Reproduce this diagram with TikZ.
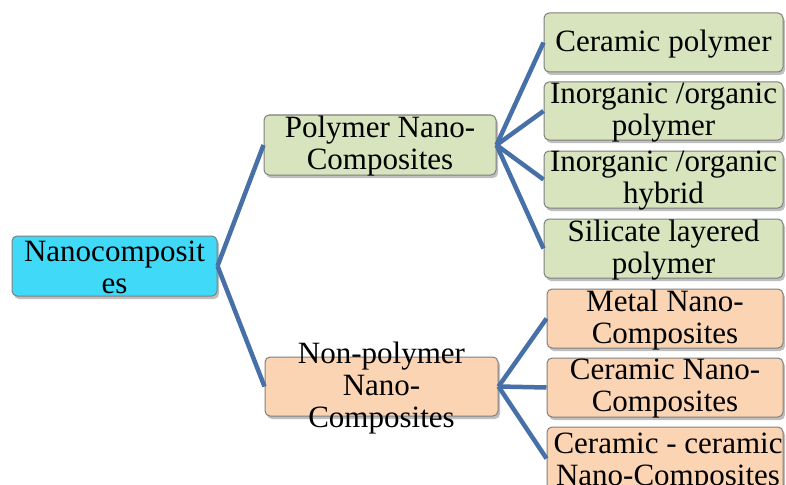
\documentclass[tikz,border=0pt]{standalone}
\usepackage{fontspec}
\setmainfont{Liberation Serif}
\usetikzlibrary{shadows}
\definecolor{cyanfill}{HTML}{40DAF8}
\definecolor{greenfill}{HTML}{D7E4BD}
\definecolor{peachfill}{HTML}{FBD4B4}
\definecolor{boxline}{HTML}{7F7F7F}
\definecolor{linkblue}{HTML}{4770A8}
\tikzset{
  box/.style={draw=boxline, line width=1pt, rounded corners=5pt, inner sep=0pt,
    drop shadow={shadow xshift=2pt, shadow yshift=-3pt, opacity=0.25, fill=black}},
  cbox/.style={box, fill=cyanfill},
  gbox/.style={box, fill=greenfill},
  pbox/.style={box, fill=peachfill},
  txt/.style={align=center, inner sep=0pt, font=\fontsize{31}{32}\selectfont},
  link/.style={draw=linkblue, line width=4.5pt}
}
\newcommand{\mybox}[6]{% style, name, x1, y1, x2, y2
  \node[#1, minimum width=#5-#3, minimum height=#6-#4] (#2) at ({(#3+#5)/2},{(#4+#6)/2}) {};}
\begin{document}
\begin{tikzpicture}[x=1pt, y=-1pt]
\useasboundingbox (0,0) rectangle (786,484);
% boxes
\mybox{cbox}{root}{12}{236}{217}{296}
\mybox{gbox}{poly}{264}{115}{496}{175}
\mybox{pbox}{nonp}{265}{357}{498}{416}
\mybox{gbox}{g1}{544}{13}{783}{72}
\mybox{gbox}{g2}{544}{82}{783}{140}
\mybox{gbox}{g3}{544}{151}{783}{208}
\mybox{gbox}{g4}{544}{219}{783}{278}
\mybox{pbox}{p1}{547}{289}{783}{348}
\mybox{pbox}{p2}{547}{358}{783}{417}
\mybox{pbox}{p3}{547}{427}{783}{490}
% connectors
\draw[link] (root.east) -- (poly.west);
\draw[link] (root.east) -- (nonp.west);
\foreach \t in {g1,g2,g3,g4} \draw[link] (poly.east) -- (\t.west);
\foreach \t in {p1,p2,p3} \draw[link] (nonp.east) -- (\t.west);
% texts
\node[txt] (troot) at ([yshift=-1.5pt]root.center) {Nanocomposit\\es};
\node[txt] (tpoly) at ([yshift=-1.5pt]poly.center) {Polymer Nano-\\Composites};
\node[txt] (tnonp) at ([yshift=-1.5pt]nonp.center) {Non-polymer\\Nano-\\Composites};
\node[txt] (tg1) at ([yshift=-1.5pt]g1.center) {Ceramic polymer};
\node[txt] (tg2) at ([yshift=-1.5pt]g2.center) {Inorganic /organic\\polymer};
\node[txt] (tg3) at ([yshift=-1.5pt]g3.center) {Inorganic /organic\\hybrid};
\node[txt] (tg4) at ([yshift=-1.5pt]g4.center) {Silicate layered\\polymer};
\node[txt] (tp1) at ([yshift=-1.5pt]p1.center) {Metal Nano-\\Composites};
\node[txt] (tp2) at ([yshift=-1.5pt]p2.center) {Ceramic Nano-\\Composites};
\node[txt] (tp3) at ([xshift=3pt,yshift=-4pt]p3.center) {Ceramic - ceramic\\Nano-Composites};
\end{tikzpicture}
\end{document}
